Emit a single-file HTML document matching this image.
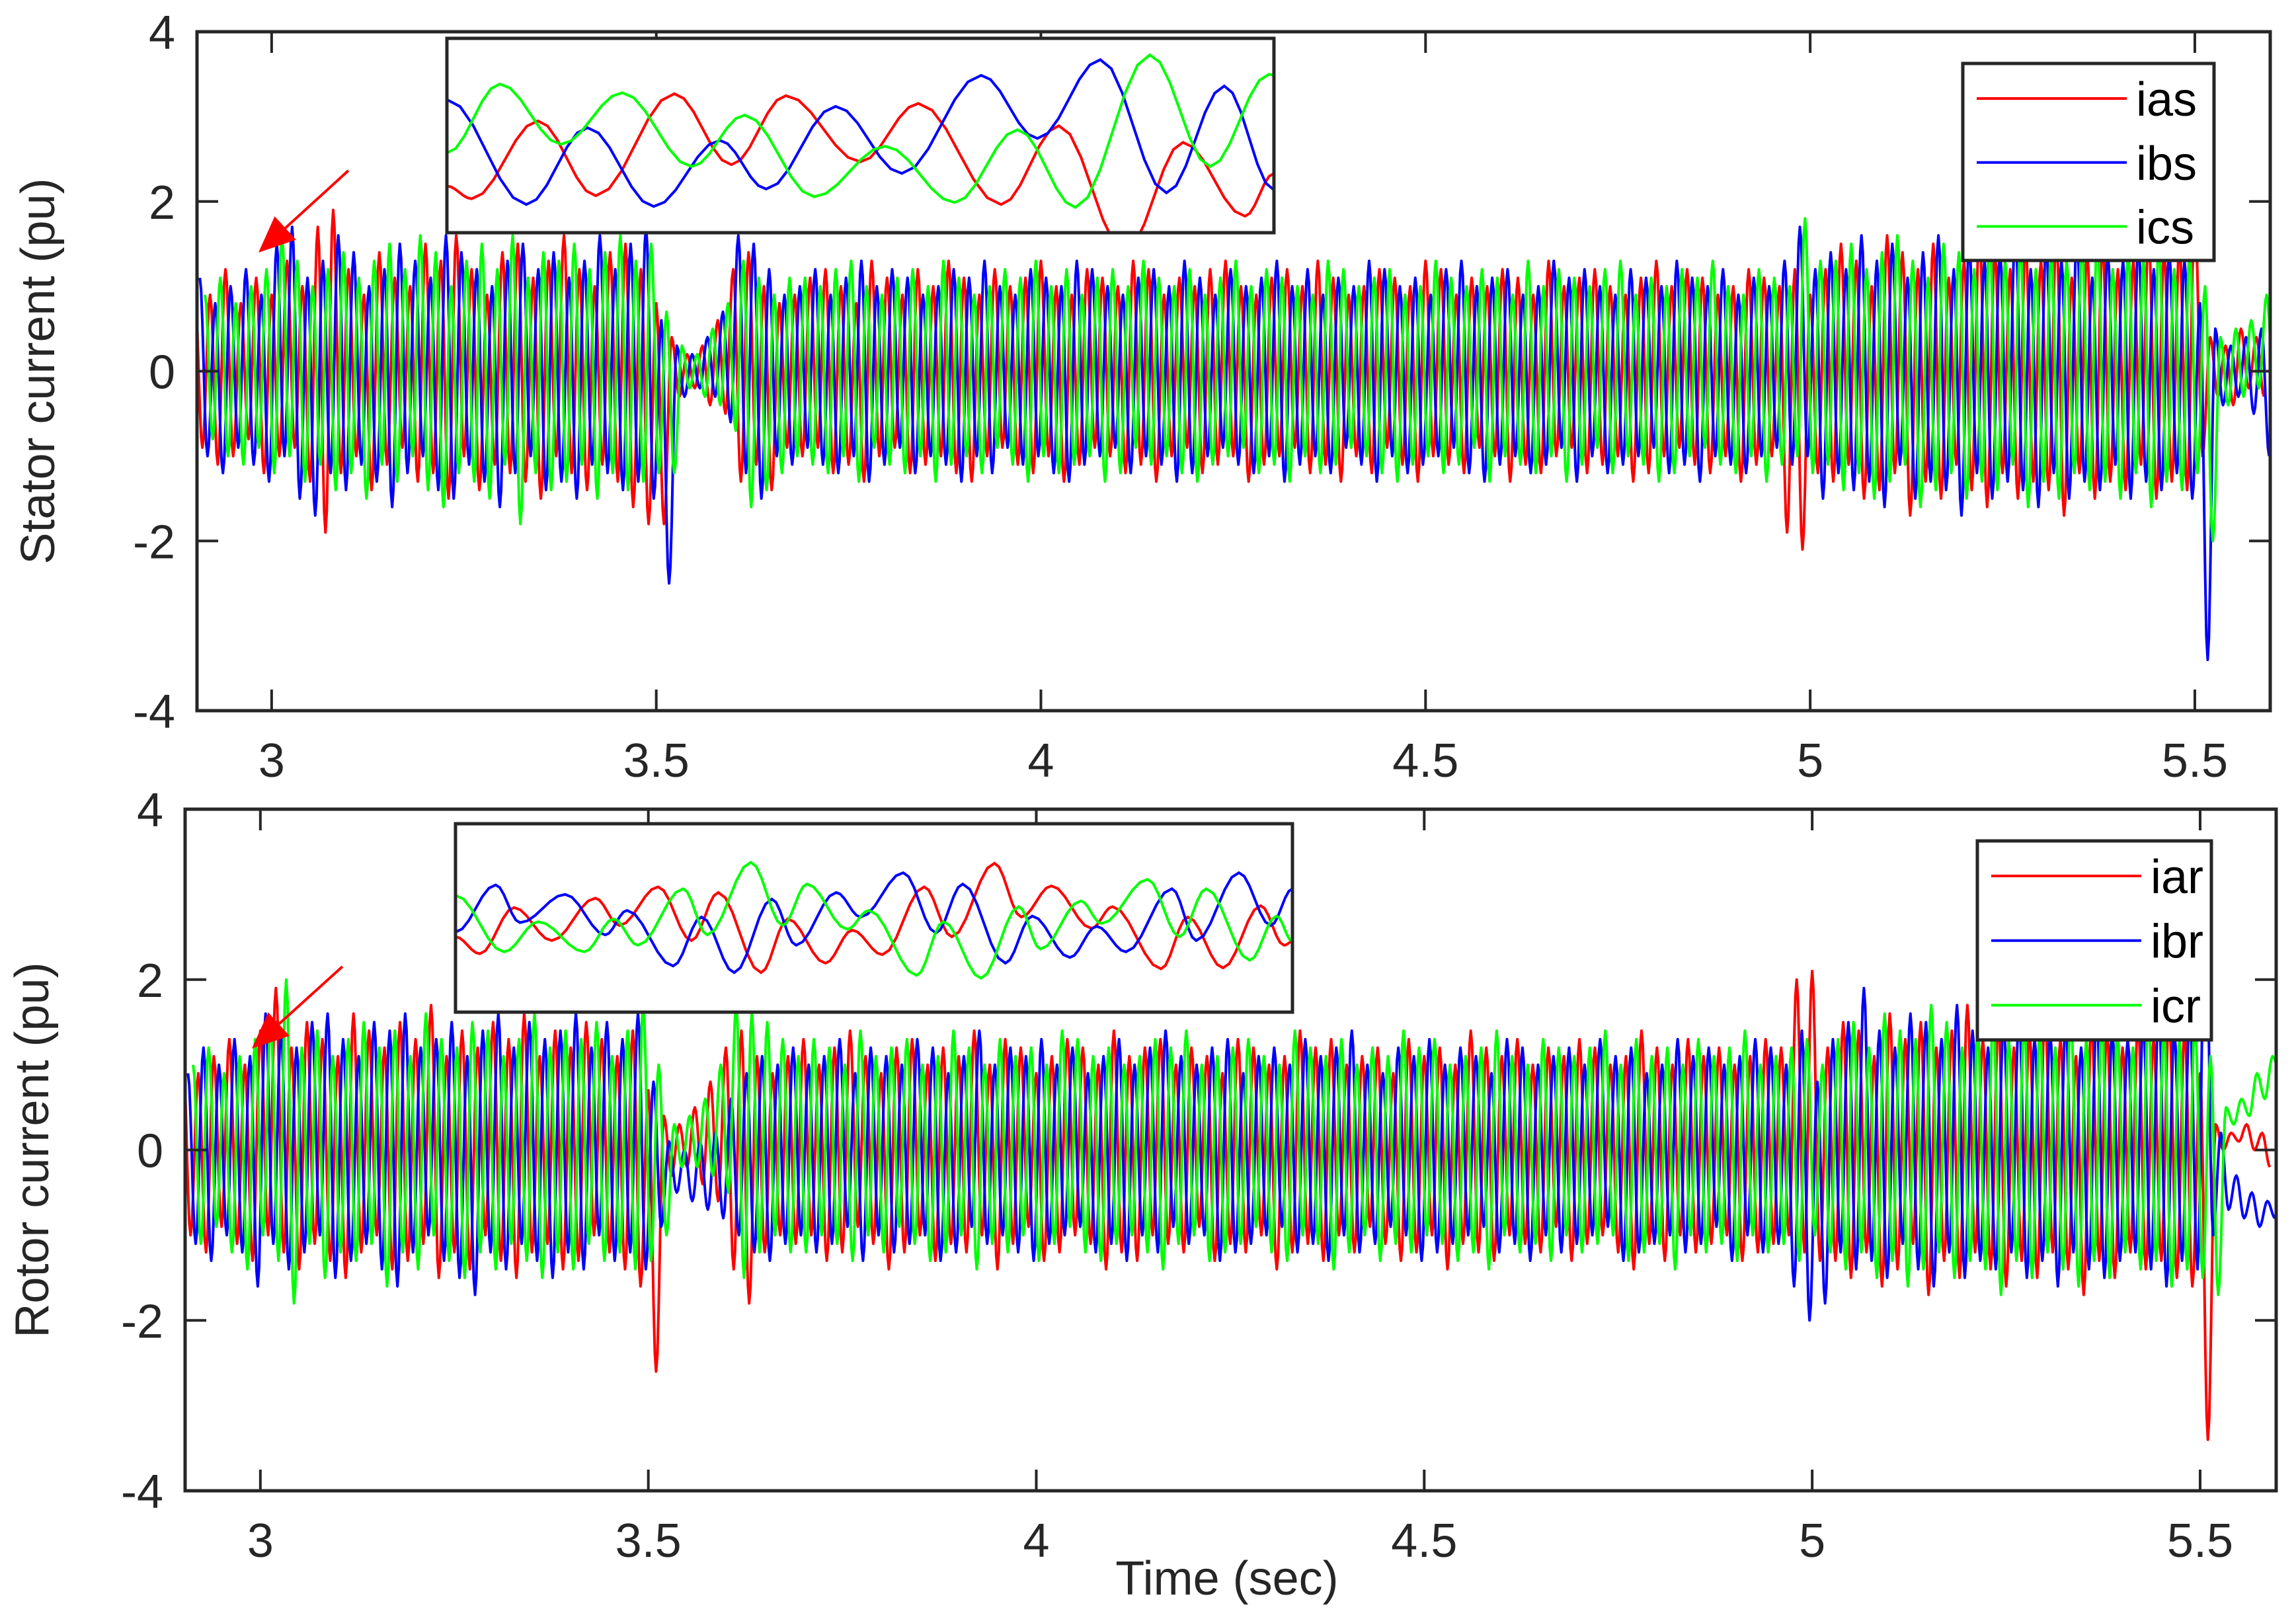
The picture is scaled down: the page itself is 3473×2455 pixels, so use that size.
<!DOCTYPE html>
<html><head><meta charset="utf-8">
<style>
html,body{margin:0;padding:0;background:#fff;}
svg{display:block;font-family:"Liberation Sans",Arial,sans-serif;}
</style></head>
<body>
<svg id="fig" width="3473" height="2455" viewBox="0 0 3473 2455" xmlns="http://www.w3.org/2000/svg">
<rect x="0" y="0" width="3473" height="2455" fill="#fff"/>
</svg>
<script>
// ---- data: extrema (peaks / troughs) per 50 Hz cycle, t starting 2.9 s ----
const xTicks=[3,3.5,4,4.5,5,5.5];
const xTickLabels=["3","3.5","4","4.5","5","5.5"];
const yTicks=[-4,-2,0,2,4];
const yTickLabels=["-4","-2","0","2","4"];
const cyclePeriod=0.02;
const startTime=2.9;

const topRedPeaks=[1.0,0.9,1.2,0.8,1.1,0.9,1.3,1.0,1.7,1.9,1.2,0.9,1.4,1.1,1.0,1.5,1.3,1.6,1.2,0.9,1.4,1.5,1.1,1.3,1.6,1.2,1.0,1.4,1.5,1.2,0.8,0.4,0.2,0.3,0.6,1.2,1.4,1.0,0.8,0.9,1.1,1.2,1.0,0.8,1.3,1.1,0.9,1.2,1.0,1.3,1.1,0.9,1.2,1.0,1.1,1.3,1.0,0.9,1.2,1.1,1.0,1.3,1.2,0.9,1.1,1.0,1.2,1.3,1.0,0.9,1.1,1.2,1.0,1.3,1.1,0.9,1.0,1.2,1.1,1.0,1.3,1.2,0.9,1.1,1.0,1.2,1.1,0.9,1.3,1.0,1.1,1.2,1.0,0.9,1.1,1.3,1.0,1.2,1.1,0.9,1.0,1.2,1.1,1.0,1.2,0.9,1.2,1.5,1.3,1.0,1.6,1.4,1.2,1.5,1.1,1.3,1.7,1.4,1.2,1.5,1.3,1.6,1.1,1.4,1.5,1.2,1.3,1.6,1.4,1.5,1.9,0.4,0.3,0.5,0.4];
const topRedTroughs=[-0.9,-1.1,-1.0,-0.8,-1.2,-1.0,-0.9,-1.3,-1.9,-1.2,-1.0,-1.4,-1.1,-0.9,-1.3,-1.2,-1.5,-1.0,-1.4,-1.1,-1.2,-1.3,-1.5,-1.0,-1.2,-1.4,-1.1,-1.3,-1.6,-1.8,-1.8,-0.3,-0.2,-0.4,-0.5,-1.3,-1.1,-1.4,-0.9,-1.0,-0.9,-1.2,-1.1,-1.3,-1.0,-0.9,-1.2,-1.1,-1.0,-1.2,-1.3,-1.0,-0.9,-1.1,-1.2,-1.0,-1.3,-1.1,-0.9,-1.0,-1.2,-1.1,-1.3,-1.0,-0.9,-1.2,-1.1,-1.0,-1.3,-1.1,-1.0,-0.9,-1.2,-1.1,-1.3,-1.0,-1.2,-0.9,-1.1,-1.3,-1.0,-1.1,-1.2,-0.9,-1.0,-1.3,-1.1,-1.2,-1.0,-0.9,-1.2,-1.1,-1.0,-1.3,-1.2,-1.0,-0.9,-1.1,-1.2,-1.0,-1.3,-1.1,-1.0,-1.9,-2.1,-1.2,-1.3,-1.1,-1.5,-1.4,-1.2,-1.7,-1.3,-1.5,-1.1,-1.4,-1.6,-1.2,-1.5,-1.3,-1.4,-1.7,-1.2,-1.5,-1.3,-1.4,-1.1,-1.5,-1.3,-1.4,-1.0,-0.3,-0.4,-0.2,-0.3];
const topBluePeaks=[1.1,0.8,1.0,1.2,0.9,1.5,1.7,1.1,1.3,1.6,1.4,1.0,1.2,1.5,1.3,1.1,1.6,1.4,1.2,1.0,1.3,1.5,1.2,1.4,1.1,1.3,1.6,1.2,1.5,1.7,0.6,0.3,0.2,0.4,0.7,1.6,1.5,1.2,0.9,1.0,1.2,0.9,1.1,1.3,1.0,1.2,1.1,0.9,1.0,1.2,1.1,1.3,1.0,0.9,1.2,1.1,1.0,1.3,1.2,1.0,0.9,1.1,1.2,1.0,1.3,1.1,0.9,1.2,1.0,1.1,1.3,1.0,1.2,0.9,1.1,1.0,1.3,1.2,1.0,1.1,0.9,1.2,1.3,1.0,1.1,1.2,0.9,1.0,1.3,1.1,1.2,1.0,0.9,1.2,1.1,1.0,1.3,1.1,1.0,1.2,0.9,1.1,1.0,1.3,1.7,1.2,1.4,1.2,1.6,1.3,1.5,1.1,1.4,1.6,1.2,1.5,1.3,1.4,1.7,1.2,1.5,1.3,1.6,1.1,1.4,1.3,1.5,1.2,1.4,1.3,0.8,0.5,0.3,0.4,0.5];
const topBlueTroughs=[-1.0,-1.2,-0.9,-1.1,-1.3,-1.0,-1.5,-1.7,-1.2,-1.4,-1.1,-1.3,-1.6,-1.2,-1.0,-1.4,-1.5,-1.1,-1.3,-1.6,-1.2,-1.0,-1.4,-1.3,-1.5,-1.1,-1.2,-1.4,-1.3,-1.5,-2.5,-0.3,-0.2,-0.3,-0.6,-1.2,-1.5,-1.0,-1.1,-0.9,-1.1,-1.2,-1.0,-1.3,-1.1,-0.9,-1.2,-1.0,-1.1,-1.3,-1.0,-1.2,-0.9,-1.1,-1.0,-1.2,-1.3,-1.1,-1.0,-0.9,-1.2,-1.0,-1.1,-1.3,-1.2,-1.0,-0.9,-1.1,-1.2,-1.0,-1.3,-1.1,-1.0,-1.2,-0.9,-1.1,-1.3,-1.0,-1.2,-1.1,-1.0,-0.9,-1.2,-1.3,-1.1,-1.0,-1.2,-1.1,-0.9,-1.3,-1.0,-1.2,-1.1,-1.0,-0.9,-1.2,-1.1,-1.3,-1.0,-1.1,-1.2,-1.0,-0.9,-1.1,-1.0,-1.5,-1.2,-1.4,-1.3,-1.6,-1.1,-1.5,-1.3,-1.4,-1.7,-1.2,-1.5,-1.3,-1.4,-1.6,-1.2,-1.5,-1.3,-1.4,-1.1,-1.5,-1.3,-1.4,-1.2,-1.5,-3.4,-0.4,-0.3,-0.5,-1.0];
const topGreenPeaks=[0.9,1.1,0.8,1.0,1.2,1.6,1.3,1.0,1.2,1.4,1.1,1.3,1.5,1.2,1.6,1.4,1.0,1.3,1.5,1.2,1.6,1.1,1.4,1.3,1.5,1.2,1.4,1.6,1.3,1.5,0.7,0.3,0.2,0.5,0.8,1.3,1.1,0.9,1.1,1.1,1.0,1.2,1.3,1.0,0.9,1.1,1.2,1.0,1.3,1.1,0.9,1.0,1.2,1.1,1.3,1.0,1.2,0.9,1.1,1.2,1.0,1.3,1.1,1.0,1.2,0.9,1.1,1.3,1.0,1.2,1.1,1.0,0.9,1.3,1.2,1.0,1.1,1.2,0.9,1.0,1.3,1.1,1.0,1.2,1.1,0.9,1.3,1.0,1.2,1.1,1.0,1.2,1.3,0.9,1.1,1.0,1.2,1.1,1.3,1.0,0.9,1.2,1.1,1.0,1.8,1.3,1.3,1.5,1.2,1.4,1.6,1.3,1.1,1.5,1.4,1.2,1.6,1.3,1.5,1.2,1.4,1.3,1.5,1.6,1.2,1.4,1.3,1.5,1.2,1.4,1.0,0.4,0.5,0.6,0.9];
const topGreenTroughs=[-0.8,-1.0,-1.1,-0.9,-1.2,-1.0,-1.3,-1.1,-1.4,-1.2,-1.5,-1.1,-1.3,-1.0,-1.4,-1.6,-1.2,-1.3,-1.5,-1.1,-1.8,-1.2,-1.4,-1.3,-1.1,-1.5,-1.2,-1.4,-1.3,-1.2,-1.2,-0.2,-0.3,-0.4,-0.7,-1.6,-1.4,-1.2,-1.0,-1.1,-1.2,-1.0,-1.3,-0.9,-1.1,-1.2,-1.0,-1.3,-1.1,-1.0,-1.2,-0.9,-1.1,-1.3,-1.0,-1.2,-1.1,-1.0,-1.3,-1.2,-0.9,-1.1,-1.0,-1.2,-1.3,-1.1,-1.0,-0.9,-1.2,-1.1,-1.3,-1.0,-1.2,-1.1,-0.9,-1.0,-1.2,-1.3,-1.1,-1.0,-1.2,-1.1,-0.9,-1.3,-1.0,-1.1,-1.2,-1.0,-1.3,-1.1,-0.9,-1.2,-1.0,-1.1,-1.3,-1.2,-1.0,-0.9,-1.1,-1.2,-1.0,-1.3,-1.1,-1.0,-1.2,-1.1,-1.4,-1.2,-1.5,-1.3,-1.1,-1.6,-1.4,-1.2,-1.5,-1.3,-1.4,-1.1,-1.6,-1.3,-1.5,-1.2,-1.4,-1.3,-1.5,-1.2,-1.6,-1.3,-1.4,-1.2,-2.0,-0.4,-0.3,-0.2,-0.3];

const botRedPeaks=[1.2,0.9,1.1,1.3,1.0,1.4,1.9,1.2,1.5,1.3,1.1,1.6,1.4,1.2,1.5,1.3,1.7,1.1,1.4,1.2,1.5,1.3,1.6,1.1,1.4,1.2,1.5,1.3,1.1,1.4,0.7,0.4,0.3,0.5,0.8,1.2,1.4,1.1,0.9,1.1,1.3,1.0,1.2,1.4,1.1,0.9,1.2,1.3,1.0,1.2,1.1,1.4,1.0,1.3,1.2,0.9,1.1,1.3,1.2,1.0,1.4,1.1,1.2,1.3,1.0,1.2,1.1,0.9,1.3,1.2,1.0,1.1,1.4,1.2,1.3,1.0,1.1,1.2,0.9,1.3,1.1,1.2,1.0,1.4,1.2,1.1,1.3,1.0,1.2,1.1,1.3,1.2,1.0,1.1,1.4,1.2,1.0,1.3,1.1,1.2,1.0,1.1,1.3,1.2,2.0,2.1,1.2,1.5,1.4,1.1,1.6,1.3,1.5,1.2,1.4,1.7,1.3,1.5,1.2,1.4,1.6,1.3,1.1,1.5,1.4,1.2,1.5,1.3,1.6,1.4,0.9,0.3,0.2,0.3,0.2];
const botRedTroughs=[-1.0,-1.2,-0.9,-1.1,-1.3,-1.0,-1.2,-1.4,-1.1,-1.3,-1.5,-1.2,-1.0,-1.4,-1.3,-1.1,-1.5,-1.2,-1.4,-1.0,-1.3,-1.5,-1.2,-1.1,-1.4,-1.3,-1.0,-1.2,-1.4,-1.6,-2.6,-0.3,-0.2,-0.4,-0.6,-1.4,-1.8,-1.2,-1.0,-1.1,-1.0,-1.3,-1.2,-0.9,-1.1,-1.4,-1.2,-1.0,-1.3,-1.1,-1.2,-1.0,-1.4,-1.1,-0.9,-1.3,-1.2,-1.0,-1.1,-1.4,-1.2,-1.3,-1.0,-1.1,-1.2,-0.9,-1.3,-1.1,-1.2,-1.0,-1.4,-1.2,-1.1,-1.3,-1.0,-1.2,-0.9,-1.1,-1.3,-1.2,-1.0,-1.4,-1.1,-1.2,-1.3,-1.0,-1.1,-1.2,-0.9,-1.3,-1.1,-1.0,-1.2,-1.4,-1.1,-1.3,-1.0,-1.2,-1.1,-1.0,-1.3,-1.2,-1.1,-1.0,-1.2,-1.3,-1.3,-1.5,-1.2,-1.6,-1.4,-1.1,-1.7,-1.3,-1.5,-1.2,-1.4,-1.6,-1.3,-1.5,-1.2,-1.4,-1.7,-1.3,-1.5,-1.2,-1.4,-1.3,-1.5,-1.6,-3.4,0.0,0.1,0.0,-0.2];
const botBluePeaks=[0.9,1.2,1.0,1.3,1.1,1.6,1.4,1.2,1.5,1.6,1.3,1.1,1.5,1.4,1.6,1.2,1.3,1.5,1.1,1.4,1.6,1.2,1.5,1.3,1.4,1.6,1.2,1.5,1.3,1.6,0.8,0.1,0.0,0.1,0.2,0.6,0.9,1.1,1.0,1.2,1.0,1.1,1.3,0.9,1.2,1.1,1.0,1.3,1.2,0.9,1.1,1.4,1.0,1.2,1.1,1.3,1.0,1.2,0.9,1.1,1.3,1.0,1.2,1.4,1.1,1.0,1.2,1.3,0.9,1.1,1.2,1.0,1.3,1.1,1.2,1.4,1.0,0.9,1.2,1.1,1.3,1.0,1.2,1.1,0.9,1.3,1.2,1.0,1.1,1.2,1.0,1.3,1.1,1.2,0.9,1.0,1.3,1.1,1.2,1.0,1.1,1.3,1.2,1.0,1.4,0.8,1.3,1.5,1.9,1.4,1.2,1.6,1.5,1.3,1.7,1.4,1.2,1.5,1.6,1.3,1.4,1.5,1.2,1.6,1.4,1.3,1.5,1.7,1.4,1.6,3.1,0.2,-0.3,-0.5,-0.6];
const botBlueTroughs=[-1.1,-1.3,-1.0,-1.2,-1.6,-1.1,-1.4,-1.2,-1.0,-1.5,-1.3,-1.1,-1.4,-1.6,-1.2,-1.0,-1.3,-1.5,-1.7,-1.2,-1.4,-1.1,-1.3,-1.5,-1.2,-1.4,-1.0,-1.3,-1.2,-1.4,-0.9,-0.5,-0.6,-0.7,-0.8,-1.0,-1.2,-1.3,-1.1,-1.0,-1.2,-1.1,-0.9,-1.3,-1.0,-1.2,-1.1,-1.0,-1.3,-1.2,-0.9,-1.1,-1.0,-1.2,-1.3,-1.1,-1.0,-0.9,-1.2,-1.1,-1.3,-1.0,-1.2,-0.9,-1.1,-1.0,-1.3,-1.2,-1.1,-1.0,-0.9,-1.2,-1.1,-1.3,-1.0,-1.2,-1.1,-0.9,-1.0,-1.3,-1.2,-1.1,-1.0,-0.9,-1.2,-1.1,-1.3,-1.0,-1.2,-1.1,-1.0,-0.9,-1.3,-1.2,-1.1,-1.0,-1.2,-1.1,-0.9,-1.3,-1.0,-1.2,-1.1,-1.6,-2.0,-1.8,-1.2,-1.4,-1.3,-1.5,-1.1,-1.4,-1.6,-1.2,-1.5,-1.3,-1.4,-1.2,-1.5,-1.3,-1.6,-1.2,-1.4,-1.5,-1.3,-1.2,-1.4,-1.6,-1.3,-1.4,-1.0,-0.7,-0.8,-0.9,-0.8];
const botGreenPeaks=[1.0,1.2,0.9,1.1,1.3,1.5,2.0,1.2,1.4,1.1,1.3,1.5,1.2,1.4,1.1,1.6,1.3,1.2,1.5,1.4,1.1,1.3,1.6,1.2,1.4,1.3,1.5,1.1,1.4,1.7,1.0,0.3,0.4,0.6,1.0,1.7,1.6,1.5,1.3,1.1,1.3,1.2,1.0,1.4,1.1,1.2,1.3,1.0,1.1,1.4,1.2,1.0,1.3,1.1,1.2,1.0,1.4,1.3,1.1,1.2,1.0,1.1,1.3,1.2,1.4,1.0,1.1,1.2,1.3,1.1,1.0,1.4,1.2,1.1,1.3,1.0,1.2,1.1,1.4,1.2,1.3,1.0,1.1,1.2,1.4,1.1,1.0,1.3,1.2,1.1,1.2,1.4,1.0,1.3,1.1,1.2,1.0,1.3,1.1,1.2,1.4,1.0,1.1,1.2,1.3,1.0,1.3,1.5,1.2,1.6,1.4,1.3,1.7,1.5,1.2,1.4,1.6,1.3,1.5,1.4,1.2,1.6,1.3,1.5,1.4,1.2,1.6,1.4,1.3,1.5,1.1,0.5,0.6,0.9,1.1];
const botGreenTroughs=[-1.1,-0.9,-1.2,-1.4,-1.0,-1.3,-1.8,-1.1,-1.5,-1.2,-1.3,-1.1,-1.6,-1.2,-1.4,-1.0,-1.3,-1.5,-1.2,-1.4,-1.1,-1.3,-1.5,-1.2,-1.4,-1.1,-1.3,-1.2,-1.4,-1.3,-1.0,-0.2,-0.2,-0.3,-0.5,-1.5,-1.2,-1.0,-1.2,-1.2,-1.0,-1.1,-1.3,-1.0,-1.2,-0.9,-1.1,-1.3,-1.2,-1.0,-1.4,-1.1,-1.2,-1.0,-1.3,-1.1,-0.9,-1.2,-1.3,-1.1,-1.0,-1.2,-1.4,-1.1,-1.0,-1.3,-1.2,-1.1,-0.9,-1.2,-1.3,-1.0,-1.1,-1.4,-1.2,-1.0,-1.3,-1.1,-1.2,-1.0,-1.1,-1.3,-1.2,-1.4,-1.0,-1.2,-1.1,-1.3,-1.0,-1.2,-1.1,-1.0,-1.3,-1.2,-1.1,-1.4,-1.0,-1.2,-1.1,-1.3,-1.0,-1.2,-1.1,-1.3,-1.0,-1.2,-1.4,-1.2,-1.5,-1.3,-1.6,-1.4,-1.2,-1.5,-1.3,-1.4,-1.7,-1.3,-1.5,-1.2,-1.4,-1.6,-1.3,-1.5,-1.2,-1.4,-1.3,-1.6,-1.4,-1.5,-1.7,0.3,0.4,0.6,0.9];

// ---- zoom insets: time fraction across inset, normalized value ----
const insTopRedT=[0,.03,.11,.18,.275,.344,.41,.50,.57,.67,.74,.82,.89,.965,1.0];
const insTopRedV=[-0.52,-0.65,0.15,-0.62,0.43,-0.30,0.41,-0.27,0.33,-0.71,0.10,-1.19,-0.07,-0.83,-0.39];
const insTopBlueT=[0,.096,.17,.25,.33,.386,.47,.55,.646,.714,.79,.87,.94,1.0];
const insTopBlueV=[0.37,-0.71,0.08,-0.73,-0.05,-0.55,0.30,-0.39,0.62,-0.03,0.78,-0.59,0.51,-0.56];
const insTopGreenT=[0,.064,.138,.212,.296,.36,.444,.53,.614,.69,.76,.85,.923,.994,1.0];
const insTopGreenV=[-0.18,0.53,-0.09,0.44,-0.32,0.21,-0.63,-0.11,-0.69,0.06,-0.74,0.83,-0.32,0.63,0.62];
const insBotRedT=[0,.029,.07,.115,.167,.196,.242,.282,.314,.365,.397,.442,.474,.51,.56,.593,.644,.676,.712,.76,.785,.843,.875,.917,.962,.99,1.0];
const insBotRedV=[-0.20,-0.38,0.11,-0.24,0.21,-0.08,0.33,-0.24,0.27,-0.58,-0.01,-0.48,-0.13,-0.39,0.33,-0.20,0.58,0.01,0.34,-0.11,0.12,-0.54,0.01,-0.53,0.13,-0.29,-0.25];
const insBotBlueT=[0,.048,.077,.131,.179,.205,.26,.294,.333,.378,.407,.455,.484,.535,.574,.606,.657,.689,.734,.766,.801,.856,.885,.936,.974,1.0];
const insBotBlueV=[-0.15,0.35,-0.05,0.25,-0.18,0.08,-0.51,0.01,-0.58,0.20,-0.29,0.27,0.01,0.48,-0.16,0.36,-0.48,0.02,-0.42,-0.09,-0.36,0.31,-0.24,0.48,-0.08,0.31];
const insBotGreenT=[0,.058,.099,.154,.189,.218,.272,.301,.353,.391,.42,.468,.494,.551,.583,.628,.673,.699,.747,.772,.827,.865,.897,.949,.981,1.0];
const insBotGreenV=[0.24,-0.36,-0.04,-0.36,-0.01,-0.29,0.31,-0.18,0.59,-0.08,0.36,-0.12,0.08,-0.61,-0.04,-0.64,0.12,-0.33,0.18,-0.06,0.41,-0.20,0.31,-0.45,0.02,-0.25];

const NS="http://www.w3.org/2000/svg";
const svg=document.getElementById('fig');
function mk(tag,attrs,parent){const e=document.createElementNS(NS,tag);for(const k in attrs)e.setAttribute(k,attrs[k]);(parent||svg).appendChild(e);return e;}
const INK="#262626";
const COLORS={r:"#ff0000",b:"#0000ff",g:"#00ff00"};

const panels=[
 {id:'stator',L:298,R:3434,T:48,B:1075,ylabel:'Stator current (pu)',ylx:82,
  series:[['ias',COLORS.r,topRedPeaks,topRedTroughs,0],['ibs',COLORS.b,topBluePeaks,topBlueTroughs,1/3],['ics',COLORS.g,topGreenPeaks,topGreenTroughs,2/3]],
  inset:{L:676,R:1927,T:58,B:352,s:[[COLORS.r,insTopRedT,insTopRedV],[COLORS.b,insTopBlueT,insTopBlueV],[COLORS.g,insTopGreenT,insTopGreenV]]},
  legend:{L:2969,R:3349,T:96,B:394},arrow:[527,258,391,382]},
 {id:'rotor',L:280,R:3443,T:1224,B:2255,ylabel:'Rotor current (pu)',ylx:73,
  series:[['iar',COLORS.r,botRedPeaks,botRedTroughs,0],['ibr',COLORS.b,botBluePeaks,botBlueTroughs,1/3],['icr',COLORS.g,botGreenPeaks,botGreenTroughs,2/3]],
  inset:{L:689,R:1955,T:1246,B:1531,s:[[COLORS.r,insBotRedT,insBotRedV],[COLORS.b,insBotBlueT,insBotBlueV],[COLORS.g,insBotGreenT,insBotGreenV]]},
  legend:{L:2991,R:3345,T:1272,B:1573},arrow:[518,1462,381,1586]}
];
const XMIN=2.903,XMAX=5.598,YMIN=-4,YMAX=4;

function cosPath(pts){ // pts: [[x,y],...] extrema; cosine interpolate
  let d='M'+pts[0][0].toFixed(1)+' '+pts[0][1].toFixed(1);
  for(let i=1;i<pts.length;i++){
    const [x0,y0]=pts[i-1],[x1,y1]=pts[i];
    const n=6;
    for(let j=1;j<=n;j++){const f=j/n;const w=(1-Math.cos(Math.PI*f))/2;
      d+=' L'+(x0+(x1-x0)*f).toFixed(1)+' '+(y0+(y1-y0)*w).toFixed(1);}
  }
  return d;
}

panels.forEach((p,pi)=>{
  const g=mk('g',{});
  
  
  const sx=v=>p.L+(v-XMIN)/(XMAX-XMIN)*(p.R-p.L);
  const sy=v=>p.B-(v-YMIN)/(YMAX-YMIN)*(p.B-p.T);
  const cp=mk('clipPath',{id:'clip'+pi},g);
  mk('rect',{x:p.L,y:p.T,width:p.R-p.L,height:p.B-p.T},cp);
  const sg=mk('g',{'clip-path':'url(#clip'+pi+')'},g);
  
  
  p.series.forEach(s=>{
    const [name,col,pk,tr,ph]=s;
    const pts=[];
    for(let k=0;k<pk.length;k++){
      pts.push([sx(startTime+(k+ph)*cyclePeriod),sy(pk[k])]);
      if(k<tr.length) pts.push([sx(startTime+(k+ph+0.5)*cyclePeriod),sy(tr[k])]);
    }
    const path=mk('path',{d:cosPath(pts),fill:'none',stroke:col,'stroke-width':4,'stroke-linejoin':'round'},sg);
    
    
  });
  // axes box
  const box=mk('rect',{x:p.L,y:p.T,width:p.R-p.L,height:p.B-p.T,fill:'none',stroke:INK,'stroke-width':5},g);
  
  
  xTicks.forEach((t,i)=>{
    const x=sx(t);
    mk('line',{x1:x,y1:p.B,x2:x,y2:p.B-32,stroke:INK,'stroke-width':4},g);
    mk('line',{x1:x,y1:p.T,x2:x,y2:p.T+32,stroke:INK,'stroke-width':4},g);
    const tx=mk('text',{x:x,y:p.B+100,'font-size':72,fill:INK,'text-anchor':'middle'},g);
    tx.textContent=xTickLabels[i];
    
    
  });
  yTicks.forEach((t,i)=>{
    const y=sy(t);
    mk('line',{x1:p.L,y1:y,x2:p.L+32,y2:y,stroke:INK,'stroke-width':4},g);
    mk('line',{x1:p.R,y1:y,x2:p.R-32,y2:y,stroke:INK,'stroke-width':4},g);
    const tx=mk('text',{x:p.L-33,y:y+26,'font-size':72,fill:INK,'text-anchor':'end'},g);
    tx.textContent=yTickLabels[i];
    
    
  });
  const yl=mk('text',{x:p.ylx,y:(p.T+p.B)/2,'font-size':72,fill:INK,'text-anchor':'middle',transform:'rotate(-90 '+p.ylx+' '+((p.T+p.B)/2)+')'},g);
  yl.textContent=p.ylabel;
  
  
  // inset
  const I=p.inset;
  const ig=mk('g',{},g);
  
  
  mk('rect',{x:I.L,y:I.T,width:I.R-I.L,height:I.B-I.T,fill:'#fff'},ig);
  const icp=mk('clipPath',{id:'iclip'+pi},ig);
  mk('rect',{x:I.L,y:I.T,width:I.R-I.L,height:I.B-I.T},icp);
  const isg=mk('g',{'clip-path':'url(#iclip'+pi+')'},ig);
  I.s.forEach(s=>{
    const [col,T,V]=s;
    const pts=T.map((t,i)=>[I.L+t*(I.R-I.L),(I.T+I.B)/2-V[i]*(I.B-I.T)/2]);
    const path=mk('path',{d:cosPath(pts),fill:'none',stroke:col,'stroke-width':4},isg);
    
    
  });
  mk('rect',{x:I.L,y:I.T,width:I.R-I.L,height:I.B-I.T,fill:'none',stroke:INK,'stroke-width':5},ig);
  // legend
  const Lg=p.legend;
  const lg=mk('g',{},g);
  
  
  mk('rect',{x:Lg.L,y:Lg.T,width:Lg.R-Lg.L,height:Lg.B-Lg.T,fill:'#fff',stroke:INK,'stroke-width':5},lg);
  const rowH=(Lg.B-Lg.T)/3.08;
  p.series.forEach((s,i)=>{
    const y=Lg.T+53+i*rowH*1.0;
    const e=mk('g',{},lg);
    
    
    mk('line',{x1:Lg.L+21,y1:y,x2:Lg.L+248,y2:y,stroke:s[1],'stroke-width':4},e);
    const t=mk('text',{x:Lg.L+262,y:y+26,'font-size':72,fill:'#000'},e);
    t.textContent=s[0];
  });
  // arrow
  const [ax1,ay1,ax2,ay2]=p.arrow;
  const ag=mk('g',{},g);
  
  
  const ang=Math.atan2(ay2-ay1,ax2-ax1);
  const hl=55,hw=24;
  const bx=ax2-hl*Math.cos(ang),by=ay2-hl*Math.sin(ang);
  mk('line',{x1:ax1,y1:ay1,x2:bx,y2:by,stroke:'#ff0000','stroke-width':4},ag);
  mk('polygon',{points:[ax2,ay2,bx+hw*Math.sin(ang),by-hw*Math.cos(ang),bx-hw*Math.sin(ang),by+hw*Math.cos(ang)].join(' '),fill:'#ff0000'},ag);
});
const xt=mk('text',{x:1856,y:2412,'font-size':72,fill:INK,'text-anchor':'middle'});
xt.textContent='Time (sec)';


</script>
</body></html>
